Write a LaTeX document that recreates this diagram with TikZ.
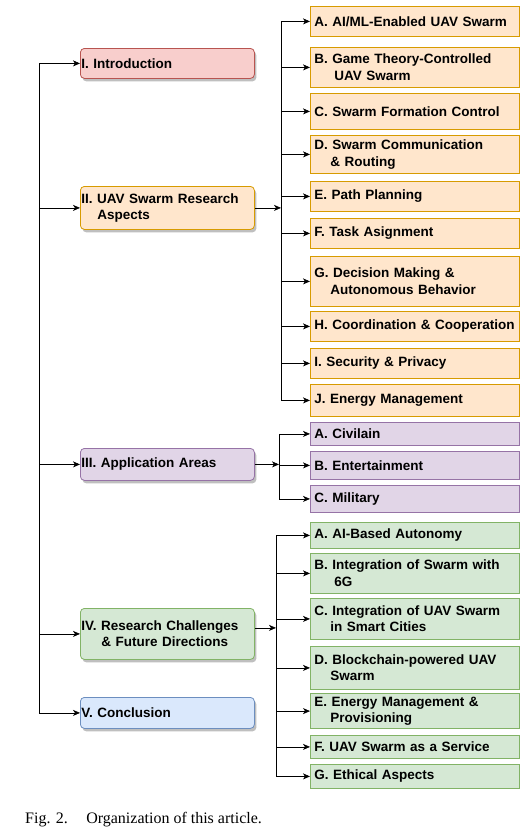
\documentclass[tikz,border=0pt]{standalone}
\usepackage{fontspec}
\setmainfont{Liberation Sans}
\newfontfamily\captionfont{Liberation Serif}
\usetikzlibrary{arrows.meta,shadows}
\definecolor{redfill}{HTML}{F8CECC}\definecolor{redline}{HTML}{B85450}
\definecolor{orfill}{HTML}{FFE6CC}\definecolor{orline}{HTML}{D79B00}
\definecolor{pufill}{HTML}{E1D5E7}\definecolor{puline}{HTML}{9673A6}
\definecolor{grfill}{HTML}{D5E8D4}\definecolor{grline}{HTML}{82B366}
\definecolor{blfill}{HTML}{DAE8FC}\definecolor{blline}{HTML}{6C8EBF}
\tikzset{
	boxfont/.style={font=\bfseries\fontsize{13.5}{16.5}\selectfont},
	mainbox/.style={draw, boxfont, rounded corners=4pt, line width=0.8pt, inner xsep=1pt,
		text width=172pt, align=left, anchor=north west,
		drop shadow={shadow xshift=2pt, shadow yshift=-3pt, fill=black, opacity=0.25}},
	subbox/.style={draw, boxfont, line width=0.8pt, inner xsep=4pt, text width=201pt,
		align=left, anchor=north west},
	orbox/.style={subbox, fill=orfill, draw=orline},
	pubox/.style={subbox, fill=pufill, draw=puline},
	grbox/.style={subbox, fill=grfill, draw=grline},
	arr/.style={-{Stealth[length=7pt,width=6pt,inset=2pt]}, line width=0.7pt},
	trunk/.style={line width=0.7pt},
}
\begin{document}
\begin{tikzpicture}[x=1pt,y=-1pt]
	\useasboundingbox (0,0) rectangle (531,831);
	% sections
	\node[mainbox, fill=redfill, draw=redline, minimum height=30pt] (intro) at (80,48) {I. Introduction};
	\node[mainbox, fill=orfill, draw=orline, minimum height=43pt] (ii) at (80,186) {II. UAV Swarm Research\\\hspace*{16pt}Aspects};
	\node[mainbox, fill=pufill, draw=puline, minimum height=32pt] (iii) at (80,448) {III. Application Areas};
	\node[mainbox, fill=grfill, draw=grline, minimum height=51pt] (iv) at (80,608) {IV. Research Challenges\\\hspace*{20pt}\& Future Directions};
	\node[mainbox, fill=blfill, draw=blline, minimum height=31pt] (concl) at (80,697) {V. Conclusion};
	% research aspects
	\node[orbox, minimum height=30pt] (oa) at (310,6) {A. AI/ML-Enabled UAV Swarm};
	\node[orbox, minimum height=40pt] (ob) at (310,47) {B. Game Theory-Controlled\\\hspace*{20pt}UAV Swarm};
	\node[orbox, minimum height=36pt] (oc) at (310,93) {C. Swarm Formation Control};
	\node[orbox, minimum height=38pt] (od) at (310,135) {D. Swarm Communication\\\hspace*{16pt}\& Routing};
	\node[orbox, minimum height=30pt] (oe) at (310,181) {E. Path Planning};
	\node[orbox, minimum height=30pt] (of) at (310,218) {F. Task Asignment};
	\node[orbox, minimum height=50pt] (og) at (310,256) {G. Decision Making \&\\\hspace*{16pt}Autonomous Behavior};
	\node[orbox, minimum height=30pt] (oh) at (310,311) {\mbox{H. Coordination \& Cooperation}};
	\node[orbox, minimum height=30pt] (oi) at (310,348) {I. Security \& Privacy};
	\node[orbox, minimum height=32pt] (oj) at (310,384) {J. Energy Management};
	% application areas
	\node[pubox, minimum height=23pt] (pa) at (310,422) {A. Civilain};
	\node[pubox, minimum height=28pt] (pb) at (310,451) {B. Entertainment};
	\node[pubox, minimum height=27pt] (pc) at (310,485) {C. Military};
	% challenges
	\node[grbox, minimum height=26pt] (ga) at (310,522) {A. AI-Based Autonomy};
	\node[grbox, minimum height=40pt] (gb) at (310,553) {B. Integration of Swarm with\\\hspace*{20pt}6G};
	\node[grbox, minimum height=41pt] (gc) at (310,598) {C. Integration of UAV Swarm\\\hspace*{16pt}in Smart Cities};
	\node[grbox, minimum height=43pt] (gd) at (310,646) {D. Blockchain-powered UAV\\\hspace*{16pt}Swarm};
	\node[grbox, minimum height=35pt] (ge) at (310,693) {E. Energy Management \&\\\hspace*{16pt}Provisioning};
	\node[grbox, minimum height=23pt] (gf) at (310,735) {F. UAV Swarm as a Service};
	\node[grbox, minimum height=24pt] (gg) at (310,764) {G. Ethical Aspects};
	% trunks
	\coordinate (ltrunk) at (39,0);
	\coordinate (otrunk) at (281,0);
	\coordinate (ptrunk) at (279,0);
	\coordinate (gtrunk) at (276,0);
	\coordinate (ivout) at ([yshift=6pt]iv.east);
	\draw[trunk] (ltrunk |- intro.west) -- (ltrunk |- concl.west);
	\foreach \n in {intro,ii,iii,iv,concl}
		\draw[arr] (ltrunk |- \n.west) -- (\n.west);
	\draw[arr] (ii.east) -- (otrunk |- ii.east);
	\draw[trunk] (otrunk |- oa.west) -- (otrunk |- oj.west);
	\foreach \n in {oa,ob,oc,od,oe,of,og,oh,oi,oj}
		\draw[arr] (otrunk |- \n.west) -- (\n.west);
	\draw[arr] (iii.east) -- (ptrunk |- iii.east);
	\draw[trunk] (ptrunk |- pa.west) -- (ptrunk |- pc.west);
	\foreach \n in {pa,pb,pc}
		\draw[arr] (ptrunk |- \n.west) -- (\n.west);
	\draw[arr] (ivout) -- (gtrunk |- ivout);
	\draw[trunk] (gtrunk |- ga.west) -- (gtrunk |- gg.west);
	\foreach \n in {ga,gb,gc,gd,ge,gf,gg}
		\draw[arr] (gtrunk |- \n.west) -- (\n.west);
	% caption
	\node[anchor=base west, inner sep=0pt, font=\captionfont\fontsize{16}{19}\selectfont] (cap) at (25,823) {Fig. 2.\hspace*{1.15em}Organization of this article.};
\end{tikzpicture}
\end{document}
